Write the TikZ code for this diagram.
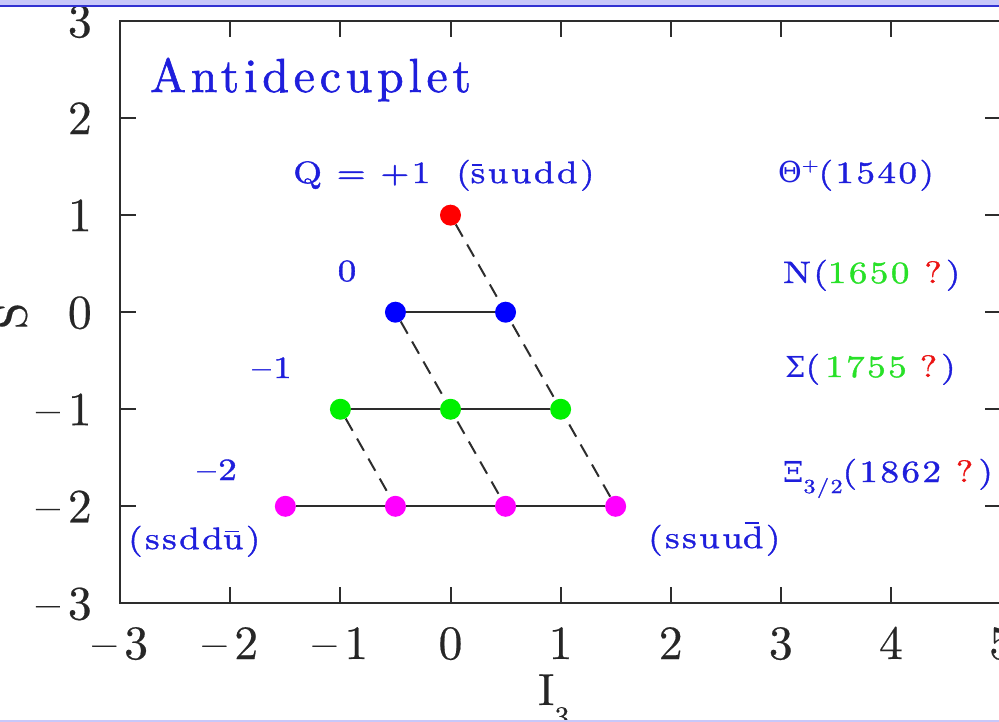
\documentclass[tikz,border=0pt]{standalone}
\usepackage{fontspec}
\newfontfamily\lbl{lmroman10-regular.otf}[FakeStretch=1.2,LetterSpace=8,RawFeature={embolden=1.2}]
\newfontfamily\lblA{lmroman10-regular.otf}[LetterSpace=10,RawFeature={embolden=1.2}]
\newfontfamily\axf{lmroman10-regular.otf}[RawFeature={embolden=0.4}]
\newfontfamily\grk{DejaVu Serif}
\newsavebox\myovlbox
\newcommand\myovl[1]{\sbox\myovlbox{#1}\makebox[0pt][l]{\hspace{0.08\wd\myovlbox}\raisebox{\dimexpr\ht\myovlbox+3bp\relax}{\rule{0.7\wd\myovlbox}{1.8bp}}}#1}
\definecolor{qblue}{RGB}{30,30,220}
\definecolor{qgreen}{RGB}{40,225,40}
\definecolor{qred}{RGB}{235,20,20}
\definecolor{ptred}{RGB}{255,0,0}
\definecolor{ptblue}{RGB}{0,0,255}
\definecolor{ptgreen}{RGB}{0,240,0}
\definecolor{ptmag}{RGB}{255,0,255}
\definecolor{bandlav}{RGB}{200,200,250}
\definecolor{bandblue}{RGB}{50,50,210}
\definecolor{ink}{RGB}{45,45,45}
\pgfdeclarelayer{linklayer}
\pgfdeclarelayer{paper}
\pgfsetlayers{paper,linklayer,main}
\tikzset{
  frameline/.style={draw=ink, line width=2bp},
  dot/.style={circle, inner sep=0pt, minimum size=21bp, fill=#1},
  solidlink/.style={draw=ink, line width=2bp},
  dashlink/.style={draw=ink, line width=2bp, dash pattern=on 14bp off 9bp},
  axnum/.style={font=\axf\fontsize{48}{50}\selectfont, text=black!85, inner sep=0pt},
  lab/.style={font=\lbl\fontsize{31}{34}\selectfont, text=qblue, inner sep=0pt}
}
\begin{document}
\begin{tikzpicture}[x=1bp,y=-1bp]
\useasboundingbox (0,0) rectangle (999,722);
\begin{pgfonlayer}{paper}
\fill[white] (0,0) rectangle (999,722);
\end{pgfonlayer}
% frame
\draw[frameline] (120.2,21.05) rectangle (1001,603.35);
\foreach \i in {-2,...,4} {
  \draw[frameline] ({450.5+110.1*\i},21.05) -- ++(0,16);
  \draw[frameline] ({450.5+110.1*\i},603.35) -- ++(0,-16);
}
\foreach \j in {-2,...,2} {
  \draw[frameline] (120.2,{312.2-97.05*\j}) -- ++(16,0);
  \draw[frameline] (1001,{312.2-97.05*\j}) -- ++(-16,0);
}
% axis numbers
\foreach \i/\t in {-3/{–\,3},-2/{–\,2},-1/{–\,1},0/0,1/1,2/2,3/3,4/4,5/5}
  \node[axnum, anchor=base] (xl\i) at ({450.5+110.1*\i},659) {\t};
\foreach \j/\t in {-3/{–\,3},-2/{–\,2},-1/{–\,1},0/0,1/1,2/2,3/3}
  \node[axnum, anchor=base east] (yl\j) at (92,{312.2-97.05*\j+16}) {\t};
\node[axnum, rotate=90] (slabel) at (10,316) {S};
\node[axnum, anchor=base west, font=\axf\fontsize{45}{48}\selectfont] (ilabel) at (538,705)
  {I\raisebox{-22bp}{\fontsize{30}{30}\selectfont 3}};
% points
\node[dot=ptred] (t0) at (450.5,215.15) {};
\node[dot=ptblue] (n1) at (395.45,312.2) {};
\node[dot=ptblue] (n2) at (505.55,312.2) {};
\node[dot=ptgreen] (s1) at (340.4,409.25) {};
\node[dot=ptgreen] (s2) at (450.5,409.25) {};
\node[dot=ptgreen] (s3) at (560.6,409.25) {};
\node[dot=ptmag] (x1) at (285.35,506.3) {};
\node[dot=ptmag] (x2) at (395.45,506.3) {};
\node[dot=ptmag] (x3) at (505.55,506.3) {};
\node[dot=ptmag] (x4) at (615.65,506.3) {};
% connectors (behind the dots)
\begin{pgfonlayer}{linklayer}
\draw[solidlink] (n1) -- (n2);
\draw[solidlink] (s1) -- (s2);
\draw[solidlink] (s2) -- (s3);
\draw[solidlink] (x1) -- (x2);
\draw[solidlink] (x2) -- (x3);
\draw[solidlink] (x3) -- (x4);
\draw[dashlink] (t0) -- (x4);
\draw[dashlink] (n1) -- (x3);
\draw[dashlink] (s1) -- (x2);
\end{pgfonlayer}
% labels
\node[anchor=base west, inner sep=0pt, text=qblue, font=\lblA\fontsize{48}{52}\selectfont] (title) at (150,92) {Antidecuplet};
\node[lab, anchor=base west] (qlab) at (293,183) {Q = +1\hspace{26bp}(\myovl{s}uudd)};
\node[lab, anchor=base] (q0) at (347,281) {0};
\node[lab, anchor=base east] (qm1) at (292,378) {–1};
\node[lab, anchor=base east] (qm2) at (237,480) {–2};
\node[lab, anchor=base west] (lq) at (128,549) {(ssdd\myovl{u})};
\node[lab, anchor=base west] (rq) at (648,548) {(ssuu\myovl{d})};
\node[lab, anchor=base west] (thlab) at (778,183) {{\grk\fontsize{29}{32}\selectfont Θ}\raisebox{12bp}{\fontsize{18}{18}\selectfont +}(1540)};
\node[lab, anchor=base west] (nlab) at (783,283) {N(\textcolor{qgreen}{1650}\hspace{15bp}\textcolor{qred}{?}\hspace{4bp})};
\node[lab, anchor=base west] (siglab) at (785,377) {{\grk\fontsize{29}{32}\selectfont Σ}(\,\textcolor{qgreen}{1755}\hspace{13bp}\textcolor{qred}{?}\hspace{4bp})};
\node[lab, anchor=base west] (xilab) at (783,482) {{\grk\fontsize{29}{32}\selectfont Ξ}\raisebox{-11bp}{\fontsize{20}{20}\selectfont 3/2}(1862 \textcolor{qred}{?}\,)};
% bands
\fill[bandlav] (0,0) rectangle (999,5.5);
\fill[bandblue] (0,5) rectangle (999,7.5);
\fill[bandlav] (0,719.5) rectangle (999,722);
\end{tikzpicture}
\end{document}
